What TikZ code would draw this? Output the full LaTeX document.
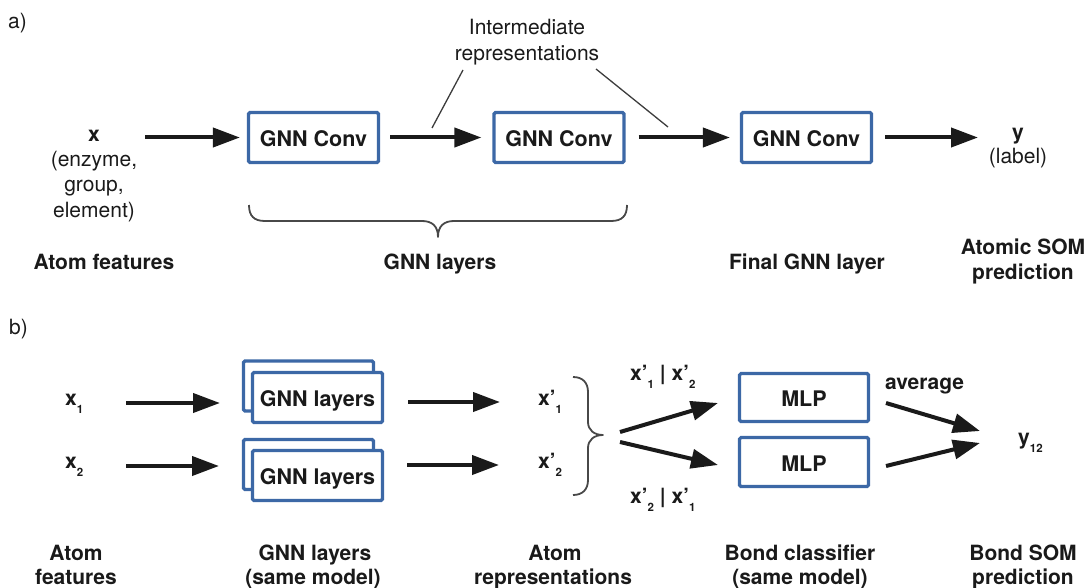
\documentclass[tikz,border=0pt]{standalone}
\usepackage{fontspec}
\setmainfont{TeX Gyre Heros}
\usetikzlibrary{arrows.meta}
\definecolor{boxblue}{HTML}{3C68A6}
\definecolor{ink}{HTML}{1A1A1A}
\newcommand\lowsub[1]{\raisebox{-8pt}{\fontsize{11.5}{11.5}\selectfont #1}}
\begin{document}
\begin{tikzpicture}[x=1pt,y=-1pt,
  every node/.style={text=ink, inner sep=0pt},
  lbl/.style={font=\fontsize{21}{24}\selectfont\bfseries, anchor=base},
  reg/.style={font=\fontsize{21}{24}\selectfont, anchor=base},
  blk/.style={draw=boxblue, line width=3.2pt, fill=white, rounded corners=1.5pt,
    minimum width=130pt, minimum height=50pt, text height=18pt, text depth=0pt,
    font=\fontsize{21.5}{24}\selectfont\bfseries},
  arr/.style={draw=ink, line width=4pt, -{Triangle[length=27pt,width=19pt]}},
  lead/.style={draw=ink!85, line width=1.3pt},
  brc/.style={draw=ink!80, line width=1.8pt, line join=round}
]
\useasboundingbox (0,0) rectangle (1086,588);

% ---------------- a) ----------------
\node[reg, anchor=base west] (pa) at (8,29) {a)};
\node[lbl] (xa) at (94,142) {x};
\node[reg] (xa1) at (94,167) {(enzyme,};
\node[reg] (xa2) at (94,192) {group,};
\node[reg] (xa3) at (94,217) {element)};

\node[blk] (c1) at (313.5,137.5) {GNN Conv};
\node[blk] (c2) at (559,137.5) {GNN Conv};
\node[blk] (c3) at (806.5,137.5) {GNN Conv};

\node[lbl] (ya) at (1018,140) {y};
\node[reg] (yl) at (1018,164) {(label)};

\node[reg] (im1) at (527,35) {Intermediate};
\node[reg] (im2) at (527,61) {representations};

\coordinate (a1s) at (145,137.5);
\coordinate (a2m) at (432,128);
\coordinate (a3m) at (668,127);
\coordinate (a4e) at (978,137.5);
\draw[arr] (a1s) -- ([xshift=-7pt]c1.west);
\draw[arr] ([xshift=10pt]c1.east) -- ([xshift=-11pt]c2.west);
\draw[arr] ([xshift=13pt]c2.east) -- ([xshift=-10pt]c3.west);
\draw[arr] ([xshift=12pt]c3.east) -- (a4e);

\coordinate (l1) at (463,70);
\coordinate (l2) at (596,69);
\draw[lead] (l1) -- (a2m);
\draw[lead] (l2) -- (a3m);

\draw[brc] (249,205) .. controls (249,216) and (254,221) .. (265,221) -- (422,221)
  .. controls (432,221) and (438,226) .. (438,237)
  .. controls (438,226) and (444,221) .. (454,221) -- (611,221)
  .. controls (622,221) and (627,216) .. (627,205);

\node[lbl] (fa) at (104,269) {Atom features};
\node[lbl] (ga) at (440,269) {GNN layers};
\node[lbl] (fg) at (807,269) {Final GNN layer};
\node[lbl] (as1) at (1023,254) {Atomic SOM};
\node[lbl] (as2) at (1023,279) {prediction};

% ---------------- b) ----------------
\node[reg, anchor=base west] (pb) at (9,334) {b)};
\node[lbl, anchor=base west] (x1) at (65,405) {x\lowsub{1}};
\node[lbl, anchor=base west] (x2) at (65,468) {x\lowsub{2}};

\node[blk] (g1b) at (308.5,386) {};
\node[blk] (g1) at (317.5,397.5) {GNN layers};
\node[blk] (g2b) at (308.5,464.5) {};
\node[blk] (g2) at (317.5,475.5) {GNN layers};

\node[lbl, anchor=base west] (xp1) at (538,405) {x’\lowsub{1}};
\node[lbl, anchor=base west] (xp2) at (538,468) {x’\lowsub{2}};

\node[lbl, anchor=base west] (c12) at (630,380) {x’\lowsub{1} | x’\lowsub{2}};
\node[lbl, anchor=base west] (c21) at (630,503) {x’\lowsub{2} | x’\lowsub{1}};

\node[blk, minimum width=129pt, minimum height=48pt] (m1) at (804,397.5) {MLP};
\node[blk, minimum width=129pt, minimum height=49pt] (m2) at (804,462) {MLP};

\node[lbl] (avg) at (924.5,389) {average};
\node[lbl, anchor=base west] (y12) at (1018,444) {y\lowsub{12}};

\coordinate (b1s) at (126,403);
\coordinate (b1e) at (220,403);
\coordinate (b2s) at (126,466);
\coordinate (b2e) at (219,466);
\draw[arr] (b1s) -- (b1e);
\draw[arr] (b2s) -- (b2e);

\coordinate (b3e) at (500,402);
\coordinate (b4e) at (499,465);
\draw[arr] ([xshift=24pt]g1.east |- b3e) -- (b3e);
\draw[arr] ([xshift=23pt]g2.east |- b4e) -- (b4e);

\coordinate (d1s) at (620,432);
\coordinate (d1e) at (718,403);
\coordinate (d2s) at (620,442);
\coordinate (d2e) at (718,465);
\draw[arr] (d1s) -- (d1e);
\draw[arr] (d2s) -- (d2e);

\coordinate (e1s) at (886,403);
\coordinate (e1e) at (980,431);
\coordinate (e2s) at (886,466);
\coordinate (e2e) at (980,443);
\draw[arr] (e1s) -- (e1e);
\draw[arr] (e2s) -- (e2e);

\draw[brc] (573,377) .. controls (583,377) and (588,383) .. (588,392) -- (588,422)
  .. controls (588,430) and (594,435) .. (603,435)
  .. controls (594,435) and (588,440) .. (588,448) -- (588,480)
  .. controls (588,489) and (583,495) .. (573,495);

\node[lbl] (bf1) at (76,560) {Atom};
\node[lbl] (bf2) at (76,584) {features};
\node[lbl] (bg1) at (315,560) {GNN layers};
\node[lbl] (bg2) at (313,584) {(same model)};
\node[lbl] (br1) at (555,560) {Atom};
\node[lbl] (br2) at (553,584) {representations};
\node[lbl] (bc1) at (800,560) {Bond classifier};
\node[lbl] (bc2) at (800,584) {(same model)};
\node[lbl] (bs1) at (1023,560) {Bond SOM};
\node[lbl] (bs2) at (1023,584) {prediction};
\end{tikzpicture}
\end{document}
